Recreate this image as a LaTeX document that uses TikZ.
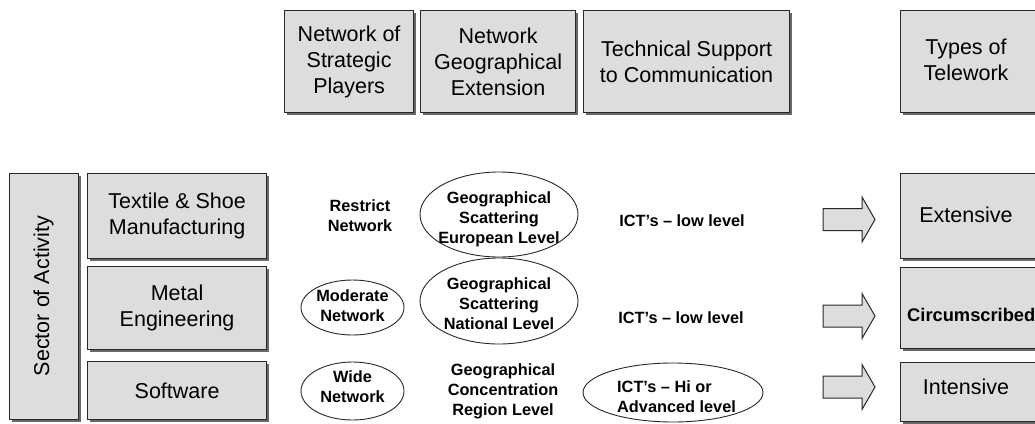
\documentclass[tikz,border=0pt]{standalone}
\usepackage{fontspec}
\setmainfont{Liberation Sans}
\usetikzlibrary{shapes.geometric,shadows}
\definecolor{boxfill}{RGB}{221,221,221}
\definecolor{boxline}{RGB}{40,40,40}
\definecolor{shadowc}{RGB}{105,105,105}
\tikzset{
  box/.style={draw=boxline, line width=1.2pt, fill=boxfill, anchor=north west, inner sep=0pt,
    drop shadow={shadow xshift=2.2pt, shadow yshift=-2.2pt, fill=shadowc, opacity=1}},
  big/.style={font=\fontsize{21.5}{26}\selectfont, align=center},
  small/.style={font=\fontsize{16.3}{20}\selectfont\bfseries, align=center, inner sep=0pt},
  oval/.style={ellipse, draw=boxline, line width=0.9pt, inner sep=0pt},
  fat/.style={draw=boxline, line width=1pt, fill=boxfill},
  blk/.pic={\draw[fat] (0,-11) -- (39,-11) -- (39,-22.5) -- (52,0) -- (39,22.5) -- (39,11) -- (0,11) -- cycle;}
}
\begin{document}
\begin{tikzpicture}[x=1pt,y=-1pt]
\useasboundingbox (0,0) rectangle (1035,423);
% header boxes
\node[box, big, minimum width=129, minimum height=102] (h1) at (284,10) {Network of\\Strategic\\Players};
\node[box, big, minimum width=155, minimum height=102] (h2) at (420,10) {Network\\Geographical\\Extension};
\node[box, big, minimum width=206, minimum height=102] (h3) at (583,10) {Technical Support\\to Communication};
\node[box, minimum width=145, minimum height=102] (h4) at (900,10) {};
\node[big, anchor=center] (h4t) at (966,60) {Types of\\Telework};
% sector
\node[box, minimum width=69, minimum height=246] (sec) at (9,173) {};
\node[big, rotate=90] (sect) at (43.5,296) {Sector of Activity};
% rows
\node[box, big, minimum width=179, minimum height=85] (r1) at (87,173) {Textile \& Shoe\\Manufacturing};
\node[box, big, minimum width=179, minimum height=83] (r2) at (87,266) {Metal\\Engineering};
\node[box, big, minimum width=179, minimum height=58] (r3) at (87,361) {Software};
% types
\node[box, minimum width=145, minimum height=85] (t1) at (900,173) {};
\node[box, minimum width=145, minimum height=81] (t2) at (900,267) {};
\node[box, minimum width=145, minimum height=59] (t3) at (900,362) {};
\node[big, anchor=center] (t1t) at (966,215) {Extensive};
\node[small, font=\fontsize{18.3}{20}\selectfont\bfseries, anchor=west] (t2t) at (907,315) {Circumscribed};
\node[big, anchor=center] (t3t) at (966,387) {Intensive};
% strategic players
\node[small] (sp1) at (360,216) {Restrict\\Network};
\node[oval, minimum width=103, minimum height=55] (sp2) at (352.5,307.5) {};
\node[small] (sp2t) at (352.5,306) {Moderate\\Network};
\node[oval, minimum width=103, minimum height=58] (sp3) at (352.5,391) {};
\node[small] (sp3t) at (352.5,387) {Wide\\Network};
% geographical
\node[oval, minimum width=158, minimum height=85] (g1) at (499,214.5) {};
\node[small] (g1t) at (499,219) {Geographical\\Scattering\\European Level};
\node[oval, minimum width=158, minimum height=86] (g2) at (499,301) {};
\node[small] (g2t) at (499,304) {Geographical\\Scattering\\National Level};
\node[small] (g3) at (503,391) {Geographical\\Concentration\\Region Level};
% technical
\node[small] (c1) at (682,221) {ICT’s – low level};
\node[small] (c2) at (681,318) {ICT’s – low level};
\node[oval, minimum width=180, minimum height=59] (c3) at (673,392.5) {};
\node[small, align=left, anchor=west] (c3t) at (617,397) {ICT’s – Hi or\\Advanced level};
% block arrows
\pic at (823,219.5) {blk};
\pic at (823,316) {blk};
\pic at (823,387) {blk};
\end{tikzpicture}
\end{document}
